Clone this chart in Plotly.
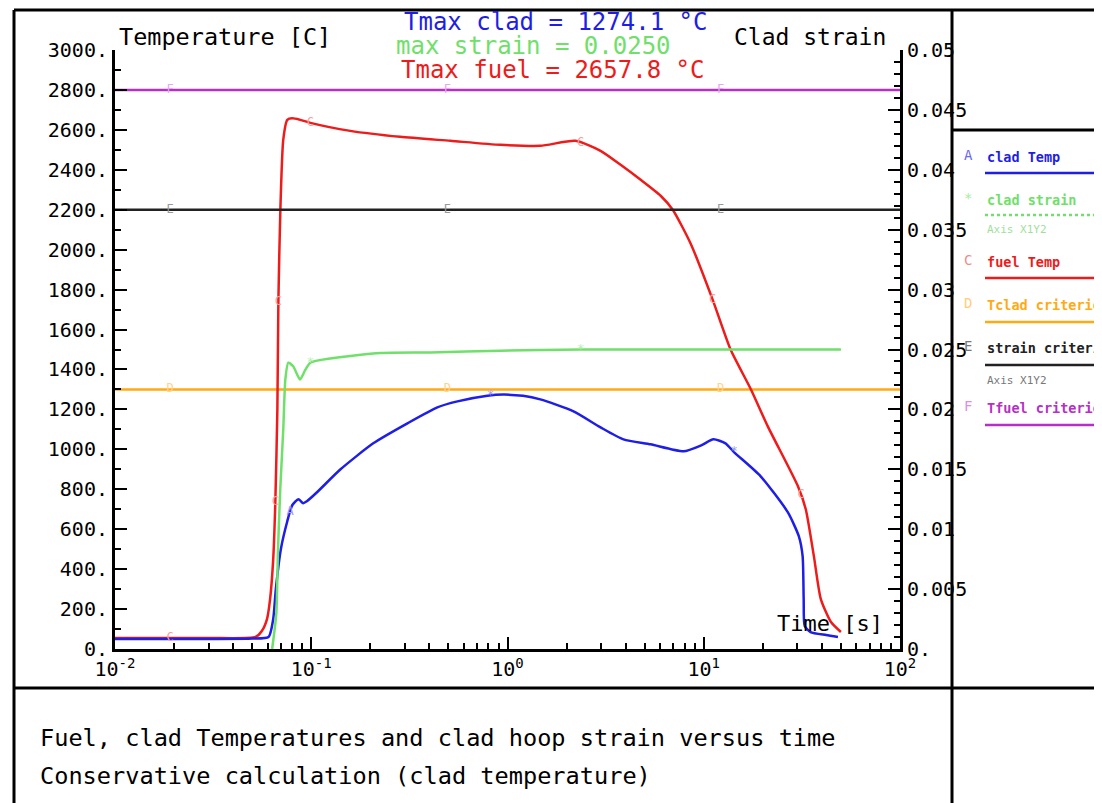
import numpy as np
import plotly.graph_objects as go

# ---------------- data ----------------
clad_t = [0.01, 0.03, 0.05, 0.0606, 0.064, 0.066, 0.070, 0.0755, 0.080, 0.086, 0.091, 0.095,
          0.107, 0.141, 0.207, 0.309, 0.439, 0.556, 0.79, 0.95, 1.2, 1.47, 2.17, 2.98, 3.9, 5.36, 7.9,
          9.7, 11.2, 12.9, 14.3, 19.5, 26.8, 30.5, 31.9, 32.3, 32.7, 35.0, 42.0, 48.3]
clad_T = [50, 50, 52, 60, 150, 300, 500, 640, 720, 750, 730, 740,
          785, 900, 1030, 1130, 1210, 1240, 1268, 1274.1, 1268, 1250, 1190, 1110, 1050, 1025, 990,
          1020, 1050, 1030, 985, 865, 685, 565, 465, 250, 115, 85, 70, 60]

fuel_t = [0.01, 0.03, 0.052, 0.056, 0.0595, 0.0617, 0.064, 0.0656, 0.0672, 0.068, 0.0696,
          0.072, 0.0755, 0.080, 0.088, 0.099, 0.158, 0.284, 0.512, 0.921, 1.47, 2.22, 2.98,
          3.77, 4.77, 6.03, 6.95, 8.58, 11.1, 13.7, 17.4, 21.2, 30.2, 33.1, 36.4, 39.5,
          44.5, 50.0]
fuel_T = [55, 55, 60, 90, 150, 250, 450, 735, 1200, 1740, 2200,
          2550, 2650, 2657.8, 2650, 2635, 2595, 2565, 2545, 2525, 2520, 2545, 2495,
          2425, 2350, 2270, 2200, 2030, 1750, 1500, 1300, 1115, 815, 700, 465, 250,
          135, 85]

strain_t = [0.0632, 0.0664, 0.0676, 0.0695, 0.072, 0.0738, 0.0764, 0.0809, 0.0877, 0.0932,
            0.0989, 0.125, 0.225, 0.405, 0.92, 2.36, 10.0, 50.0]
strain = [0.0, 0.003, 0.008, 0.0133, 0.0183, 0.0225, 0.0239, 0.0236, 0.0225, 0.0233,
          0.0239, 0.02425, 0.0247, 0.02475, 0.0249, 0.0250, 0.0250, 0.0250]

crit_tclad = 1300
crit_strain = 2200 / 3000 * 0.05
crit_tfuel = 2800
t_range = [0.01, 100]

x_ticks = [0.01, 0.1, 1, 10, 100]
x_ticktext = ["10<sup>-2</sup>", "10<sup>-1</sup>", "10<sup>0</sup>", "10<sup>1</sup>", "10<sup>2</sup>"]
y_ticks = list(range(0, 3001, 200))
y_ticktext = [f"{v}." for v in y_ticks]
y2_ticks = [round(0.005 * i, 3) for i in range(11)]
y2_ticktext = ["0."] + [("%g" % v) for v in y2_ticks[1:]]

legend_names = ["clad Temp", "clad strain", "fuel Temp", "Tclad criterion", "strain criterion", "Tfuel criterion"]
legend_syms = ["A", "*", "C", "D", "E", "F"]

# ---------------- style ----------------
BLUE = "#1e1ee6"
GREEN = "#6fe06a"
RED = "#ee1b1b"
ORANGE = "#ffaa11"
BLACK = "#222222"
PURPLE = "#b52fc8"
MONO = "DejaVu Sans Mono"

OFF = 8  # page body margin
L, R, T, B = 115, 900, 50, 649   # plot area in screenshot pixels
W, H = 1102, 803


def px(x):
    return (x - L) / (R - L)


def py(y):
    return (B - y) / (B - T)


fig = go.Figure()

# criterion lines
fig.add_trace(go.Scatter(x=t_range, y=[crit_tfuel] * 2, mode="lines",
                         line=dict(color=PURPLE, width=2.5), showlegend=False))
fig.add_trace(go.Scatter(x=t_range, y=[crit_strain] * 2, mode="lines", yaxis="y2",
                         line=dict(color=BLACK, width=2.5), showlegend=False))
fig.add_trace(go.Scatter(x=t_range, y=[crit_tclad] * 2, mode="lines",
                         line=dict(color=ORANGE, width=2.5), showlegend=False))

# curves
fig.add_trace(go.Scatter(x=fuel_t, y=fuel_T, mode="lines",
                         line=dict(color=RED, width=2.5, shape="spline", smoothing=0.6), showlegend=False))
fig.add_trace(go.Scatter(x=strain_t, y=strain, mode="lines", yaxis="y2",
                         line=dict(color=GREEN, width=2.5, shape="spline", smoothing=0.6), showlegend=False))
fig.add_trace(go.Scatter(x=clad_t, y=clad_T, mode="lines",
                         line=dict(color=BLUE, width=2.5, shape="spline", smoothing=0.6), showlegend=False))


# letter markers along curves
def interp_log(tq, ts, vs):
    return list(np.interp(np.log10(tq), np.log10(ts), vs))


crit_mt = [0.0191, 0.494, 12.2]
fig.add_trace(go.Scatter(x=crit_mt, y=[crit_tfuel] * 3, mode="text", text=["F"] * 3,
                         textfont=dict(family=MONO, size=12, color="#e7a6ee"), showlegend=False))
fig.add_trace(go.Scatter(x=crit_mt, y=[crit_strain] * 3, mode="text", text=["E"] * 3, yaxis="y2",
                         textfont=dict(family=MONO, size=12, color="#999999"), showlegend=False))
fig.add_trace(go.Scatter(x=crit_mt, y=[crit_tclad] * 3, mode="text", text=["D"] * 3,
                         textfont=dict(family=MONO, size=12, color="#ffd38a"), showlegend=False))
fuel_mt = [0.0191, 0.0656, 0.068, 0.099, 2.36, 11.1, 31.3]
fig.add_trace(go.Scatter(x=fuel_mt, y=interp_log(fuel_mt, fuel_t, fuel_T), mode="text",
                         text=["C"] * len(fuel_mt),
                         textfont=dict(family=MONO, size=12, color="#f1a0a0"), showlegend=False))
strain_mt = [0.099, 2.36]
fig.add_trace(go.Scatter(x=strain_mt, y=interp_log(strain_mt, strain_t, strain), mode="text", text=["*"] * 2,
                         yaxis="y2", textfont=dict(family=MONO, size=12, color="#b7efb0"), showlegend=False))
clad_mt = [0.078, 0.82, 14.3]
fig.add_trace(go.Scatter(x=clad_mt, y=interp_log(clad_mt, clad_t, clad_T), mode="text", text=["A", "*", "*"],
                         textfont=dict(family=MONO, size=12, color="#9a9af0"), showlegend=False))

# ---------------- layout ----------------
x_minor = [m * 10.0 ** e for e in range(-2, 2) for m in range(2, 10)]
tick_font = dict(family=MONO, size=20, color="black")

fig.update_layout(
    width=W, height=H, autosize=False,
    margin=dict(l=L - OFF, r=W - (R - OFF), t=T - OFF, b=H - (B - OFF)),
    paper_bgcolor="white", plot_bgcolor="white",
    showlegend=False,
    xaxis=dict(type="log", range=[-2, 2], showgrid=False, zeroline=False,
               showline=True, linecolor="black", linewidth=3,
               ticks="inside", ticklen=12, tickwidth=2, tickcolor="black",
               tickmode="array", tickvals=x_ticks, ticktext=x_ticktext,
               tickfont=tick_font,
               minor=dict(tickmode="array", tickvals=x_minor, ticks="inside", ticklen=6, tickwidth=2,
                          tickcolor="black", showgrid=False),
               automargin=False),
    yaxis=dict(range=[0, 3000], showgrid=False, zeroline=False,
               showline=True, linecolor="black", linewidth=3,
               ticks="inside", ticklen=12, tickwidth=2, tickcolor="black",
               tickmode="array", tickvals=y_ticks, ticktext=y_ticktext,
               tickfont=tick_font,
               minor=dict(dtick=100, ticks="inside", ticklen=6, tickwidth=2, tickcolor="black", showgrid=False),
               automargin=False),
    yaxis2=dict(range=[0, 0.05], overlaying="y", side="right", showgrid=False, zeroline=False,
                showline=True, linecolor="black", linewidth=3,
                ticks="inside", ticklen=12, tickwidth=2, tickcolor="black",
                tickmode="array", tickvals=y2_ticks, ticktext=y2_ticktext,
                tickfont=tick_font,
                minor=dict(dtick=0.001, ticks="inside", ticklen=6, tickwidth=2, tickcolor="black",
                           showgrid=False),
                automargin=False),
)

# frame
frame = [
    (14, 10, 14, 830), (14, 10, 1120, 10), (952, 10, 952, 830),
    (14, 688, 1120, 688), (952, 130, 1120, 130),
]
for x0, y0, x1, y1 in frame:
    fig.add_shape(type="line", xref="paper", yref="paper", x0=px(x0), y0=py(y0), x1=px(x1), y1=py(y1),
                  line=dict(color="black", width=3))


def ann(text, x, y, size, color="black", xanchor="center", weight="normal"):
    fig.add_annotation(text=text, xref="paper", yref="paper", x=px(x), y=py(y), showarrow=False,
                       xanchor=xanchor, yanchor="middle",
                       font=dict(family=MONO, size=size, color=color, weight=weight))


ann("Tmax clad = 1274.1 °C", 555, 22, 24, BLUE)
ann("max strain = 0.0250", 533, 46, 24, GREEN)
ann("Tmax fuel = 2657.8 °C", 552, 70, 24, RED)
ann("Temperature [C]", 225, 37, 23.5)
ann("Clad strain", 810, 37, 23)
ann("Time [s]", 830, 623, 22)
ann("Fuel, clad Temperatures and clad hoop strain versus time", 38, 738, 23.6, xanchor="left")
ann("Conservative calculation (clad temperature)", 38, 776, 23.6, xanchor="left")

# right-side legend
leg_colors = [BLUE, GREEN, RED, ORANGE, BLACK, PURPLE]
leg_sym_colors = ["#6a6af0", "#a6eda0", "#f08a8a", "#ffcf7a", "#777777", "#d890e6"]
leg_text_y = [157, 200, 262, 305, 348, 408]
leg_line_y = [173, 215, 278, 322, 365, 425]
for i, name in enumerate(legend_names):
    ann(legend_syms[i], 968, leg_text_y[i] - 2, 14, leg_sym_colors[i])
    ann(name, 985, leg_text_y[i], 13.5, leg_colors[i], xanchor="left", weight="bold")
    fig.add_shape(type="line", xref="paper", yref="paper", x0=px(985), y0=py(leg_line_y[i]),
                  x1=px(1120), y1=py(leg_line_y[i]),
                  line=dict(color=leg_colors[i], width=2.5, dash="dot" if i == 1 else "solid"))
ann("Axis X1Y2", 985, 229, 11, "#9fdf9a", xanchor="left")
ann("Axis X1Y2", 985, 380, 11, "#777777", xanchor="left")

fig.write_html("out.html")
